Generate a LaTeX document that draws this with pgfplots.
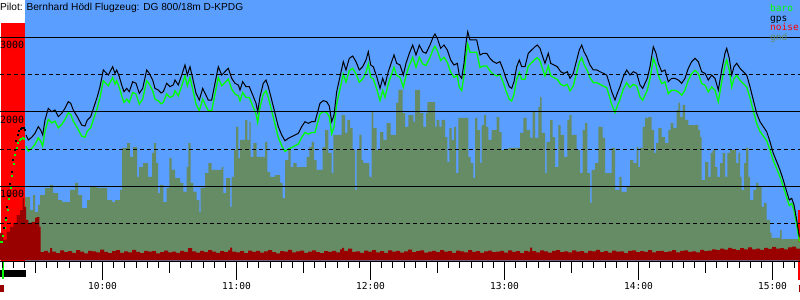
\documentclass[border=0pt]{standalone}
\usepackage{fontspec}
\setmainfont{Liberation Sans}
\newfontfamily\monofont{DejaVu Sans Mono}
\usepackage{pgfplots}
\pgfplotsset{compat=1.18}
\usepackage{pgfplotstable}
\definecolor{sky}{RGB}{90,158,255}
\definecolor{gndc}{RGB}{102,140,102}
\definecolor{noisec}{RGB}{153,0,0}
\definecolor{engred}{RGB}{255,0,0}
\definecolor{barog}{RGB}{0,255,0}

\pgfplotstableread{
x gps baro
26 1689 1539
28.3 1622 1472
31.7 1658 1508
35 1712 1562
38.3 1801 1651
40.7 1756 1606
42.7 1689 1539
45 1891 1741
48.3 2048 1898
51.7 2003 1853
55 2025 1875
58.3 1935 1785
61.7 1981 1831
65 2048 1898
68.3 2137 1987
70.7 2116 1966
73.3 2025 1875
77.3 1935 1785
81.7 1823 1673
85 1810 1660
87.3 1891 1741
90.7 1935 1785
94 2070 1920
97.3 2204 2054
100 2339 2194
103.3 2564 2419
106 2527 2382
108.3 2496 2351
110 2541 2396
112.7 2608 2463
115 2519 2374
116.7 2564 2419
119.3 2474 2329
121.7 2362 2217
124 2272 2127
126.7 2317 2172
129.3 2272 2127
132.7 2406 2261
136 2385 2240
139.3 2250 2105
142.7 2317 2172
146.7 2564 2419
149.3 2519 2374
152.7 2429 2284
155 2317 2172
158.3 2295 2150
161 2254 2109
163.3 2272 2127
166.7 2385 2240
170 2339 2194
173.3 2362 2217
175 2429 2284
178.3 2362 2217
181.7 2496 2351
185 2631 2486
187.3 2496 2351
190 2608 2463
192.7 2452 2307
196 2250 2105
199.3 2160 2015
202.7 2317 2172
205 2250 2105
208.3 2160 2015
211.7 2160 2015
215 2385 2240
218.3 2608 2463
221.7 2496 2351
225 2541 2396
228.3 2587 2442
231.7 2452 2307
235 2385 2240
238.3 2362 2217
240 2295 2150
242.7 2406 2261
246 2339 2194
249.3 2339 2194
252.7 2227 2082
256 2116 1971
257.7 2003 1858
260 2204 2059
263.3 2385 2240
266 2429 2284
268.3 2339 2194
271.7 2160 2015
275 1981 1836
278.3 1801 1656
281.7 1689 1544
285 1612 1467
288.3 1644 1499
291.7 1666 1521
295 1689 1544
298.3 1712 1567
301.7 1801 1656
305 1868 1723
308.3 1846 1701
311.7 1868 1723
315 1868 1723
317.3 1981 1836
320 2116 1971
323.3 2151 2006
326.7 2137 1992
329.3 2079 1934
331.7 1868 1703
334 1958 1793
336.7 2272 2107
340 2474 2309
343.3 2676 2511
346 2564 2399
349.3 2721 2556
352.7 2752 2587
356 2676 2511
359.3 2564 2399
362.7 2608 2443
366 2698 2533
368.3 2810 2645
370.7 2631 2466
373.3 2608 2443
376.7 2474 2309
380 2317 2152
382.7 2452 2287
385 2362 2197
388.3 2541 2376
391.7 2676 2511
394 2766 2601
396.7 2654 2489
400 2631 2466
403.3 2496 2331
406 2654 2489
409.3 2789 2624
412.7 2900 2735
416 2766 2601
419.3 2900 2735
422.7 2810 2645
426 2789 2624
430 2900 2735
433.3 3012 2847
435 3048 2883
437.3 2990 2825
440.7 2856 2691
444 2900 2735
447.3 2833 2668
450.7 2698 2533
454 2631 2466
457.3 2654 2489
459.3 2496 2331
461.7 2452 2287
464 2654 2489
466 2923 2758
467.7 3079 2914
470 2968 2803
473.3 2968 2803
476.7 2968 2803
480 2766 2596
483.3 2789 2619
486.7 2789 2619
490 2721 2551
493.3 2676 2506
496.7 2654 2484
500 2676 2506
503.3 2564 2394
506 2452 2282
509.3 2339 2169
511.7 2317 2147
514 2406 2236
516.7 2608 2438
519.3 2698 2528
521.7 2608 2438
525 2608 2438
528.3 2789 2619
531.7 2833 2663
535 2877 2707
537.3 2900 2730
540 2856 2686
542.7 2743 2573
545 2654 2484
548.3 2789 2619
550.7 2654 2484
554 2631 2461
557.3 2608 2438
560.7 2541 2371
564 2519 2349
567.3 2541 2371
570 2452 2282
573.3 2519 2349
576.7 2698 2528
579.3 2833 2663
581.7 2900 2730
584 2810 2640
586.7 2743 2573
590 2631 2461
593.3 2564 2394
596.7 2564 2394
600 2541 2371
603.3 2519 2349
606.7 2496 2326
609.3 2385 2215
611.7 2272 2102
615 2160 1990
617.3 2250 2080
620 2339 2169
623.3 2474 2304
626.7 2564 2394
630 2496 2326
633.3 2541 2371
636.7 2519 2349
640 2362 2202
642.7 2317 2157
645 2385 2225
647.3 2452 2292
650 2608 2448
653.3 2877 2717
656 2789 2629
658.3 2654 2494
661.7 2541 2381
665 2564 2404
668.3 2406 2246
671.7 2452 2292
675 2452 2292
678.3 2429 2269
681.7 2385 2225
685 2452 2292
688.3 2587 2427
691.7 2676 2516
695 2721 2561
698.3 2676 2516
701.7 2541 2381
705 2519 2359
708.3 2429 2269
711.7 2496 2336
715 2452 2292
718.3 2295 2135
721.7 2564 2404
725 2789 2629
726.7 2856 2696
729.3 2721 2561
731.7 2496 2336
734 2608 2448
736.7 2654 2494
740 2587 2427
743.3 2541 2381
746.7 2496 2336
750 2339 2189
753.3 2160 2015
756.7 1981 1841
760 1868 1738
763.3 1801 1676
766.7 1733 1613
770 1599 1489
773.3 1443 1343
776.7 1330 1235
780 1218 1128
783.3 1083 998
786.7 926 846
789.3 814 739
791.7 837 767
794 747 679
796.7 545 480
799.3 320 255
}\flight

\pgfplotstableread{
x gps
4 437
5.5 572
7 720
8.5 868
10 1029
11.5 1191
13 1352
14.5 1487
16 1608
17.5 1689
19 1743
20.5 1770
22 1790
23.5 1783
25 1756
}\climbgps

\pgfplotstableread{
x baro
3 329
4.5 437
6 545
7.5 680
9 827
10.5 976
12 1137
13.5 1299
15 1420
16.5 1514
18 1581
19.5 1622
21 1642
22.5 1649
24 1635
}\climbbaro

\pgfplotstableread{
x alt
25 854
30 679
33 881
35 652
38 747
40 881
45 976
50 1016
53 908
58 814
62 787
70 949
75 1043
78 881
82 706
87 814
90 989
97 976
107 814
112 787
115 814
120 949
122 1514
127 1581
130 1393
133 1527
137 1124
139 1258
143 1312
148 1124
152 1447
154 1581
156 1312
158 908
160 1016
163.3 787
166.7 976
169.3 1379
171.7 1218
175 1110
180 1043
183.3 922
186.7 1258
188.3 1581
190.7 1043
193.3 922
196.7 814
199.3 652
200.7 976
205 1177
208.3 1312
211.7 1218
221.7 1258
223.3 908
226 1110
230 720
231.7 1124
234 1487
236 1797
238.3 1379
240 1622
245 1891
247.3 1622
249.3 1864
250.7 1393
253.3 1581
256.7 1393
265 1595
267.3 1191
270 1124
275 1150
280 1043
282.7 841
285 1352
288.3 1514
290.7 1258
293.3 1312
296.7 1258
306.7 1393
309.3 1527
311.7 1595
314 1352
316.7 1218
320 1218
322.7 1527
325 1756
328.3 1447
331.7 1177
333.3 1689
341.7 1958
345 1716
347.3 1891
350 1783
352.7 1487
355 949
356.7 1487
359.3 1689
361.7 1352
363.3 1312
369.3 1124
371.7 1998
373.3 1783
376.7 1487
380 1729
383.3 1622
386.7 1850
390.7 1689
396 2120
398.3 2295
402.7 1985
405 1797
408.3 1958
413.3 1864
415 2295
420 1985
423.3 1797
426 1985
427.3 2133
435 1797
436.7 1891
439.3 1797
441.7 1891
445 1662
447.3 1325
449.3 1783
451.7 1622
454 1797
456 1177
458.3 1918
468.3 1393
470.7 1312
473.3 1110
475 1918
477.3 1756
480 1312
481.7 1823
484 1958
486 1797
488.3 1622
491.7 1756
496.7 1931
499.3 1729
501.7 1487
508.3 1514
520 1716
523.3 1918
526.7 1756
530 1649
532.7 1998
535 1649
538.3 2066
540 2200
541.7 1716
545 1177
546.7 1595
550 1891
552.7 1662
555 1258
558.3 1823
560.7 1689
564 1393
567.3 1891
569.3 1958
571.7 1689
576.7 1487
580 1177
582.7 1756
585 1850
587.3 1177
590 774
591.7 1218
595 1312
598.3 1797
602.7 1649
605 1177
611.7 1514
615 949
619.3 1124
621.7 922
626.7 989
630 1352
633.3 1312
636.7 1527
638.3 1258
640 1514
642.7 1797
645 1918
648.3 1931
651.7 1756
654 1447
656 1581
658.3 1783
661.7 1662
665 1581
668.3 1756
670.7 1850
673.3 1783
676.7 2025
678.3 2120
680 1931
682.7 2093
685 1891
688.3 1823
698.3 1756
700 1662
701.7 1083
705 1325
708.3 1124
710.7 1447
712.7 1487
715 1258
717.3 1124
720 1312
722.7 1447
725 1124
727.3 1447
730 1487
736 1312
738.3 1447
740 1124
741.7 949
744 1312
746 1514
748.3 1124
750 814
753.3 949
756 1043
758.3 989
761.7 720
764 774
766.7 545
770 370
771.7 303
780 410
781.7 289
798.3 249
800 249
}\gnd

\pgfplotstableread{
x alt
0 370
3.3 276
6.7 387
10 451
13.3 505
16.7 612
20 679
22.7 841
24 720
26 545
28.3 505
31.7 518
35 572
36.7 585
39.3 451
40.7 114
44 128
48 105
50 168
52 120
56 98
60 135
64 112
68 126
72 101
76 140
80 118
84 97
88 131
92 122
96 108
100 145
104 116
108 99
112 127
116 138
120 104
124 121
128 110
132 142
136 115
140 100
144 130
148 118
152 125
156 96
160 113
164 134
168 108
172 120
176 101
180 129
184 117
188 165
192 122
196 105
200 131
204 112
208 140
212 119
216 102
220 127
224 114
228 136
230 172
232 120
236 108
240 125
244 99
248 133
252 116
256 128
260 106
264 122
268 139
272 111
276 97
280 126
284 118
288 143
292 109
296 121
300 132
304 104
308 119
312 137
316 113
320 100
324 126
328 117
332 131
336 108
340 150
342 170
344 128
348 161
352 115
356 124
360 104
364 132
368 119
372 141
376 110
380 125
384 101
388 136
392 118
396 129
400 107
404 122
408 145
412 113
416 127
420 135
424 106
428 120
432 131
436 112
440 140
444 118
448 126
452 104
456 133
460 121
464 109
468 138
472 115
476 127
480 102
484 124
488 134
492 111
496 120
500 129
504 107
508 136
512 117
516 125
520 100
524 131
528 119
530 172
532 126
536 110
540 135
544 122
548 105
552 128
556 140
560 113
564 124
568 108
572 137
576 119
580 126
584 102
588 130
592 121
596 142
600 114
604 127
608 106
612 133
616 118
620 124
624 99
628 129
632 137
636 111
640 126
644 117
648 138
652 108
656 125
660 131
664 114
668 122
672 140
676 110
680 128
684 135
688 117
692 124
696 108
700 142
704 126
708 133
712 150
716 138
720 160
724 145
728 171
732 152
736 140
740 165
744 148
748 176
752 150
756 161
760 143
764 170
768 155
772 182
776 158
780 166
784 148
788 175
792 185
796 160
800 160
}\noise

\begin{document}
\begin{tikzpicture}
\useasboundingbox (0,0) rectangle (800bp,-300bp);
\begin{axis}[
  at={(0,0)}, anchor=north west,
  scale only axis, width=800bp, height=261bp,
  xmin=0, xmax=800, ymin=-7, ymax=3506,
  clip=false, axis on top,
  axis x line*=bottom, axis y line*=left,
  y axis line style={draw=none},
  x axis line style={black, line width=1bp},
  xtick={102.5,236.5,370.5,504.5,638.5,772.5},
  xticklabels={10:00,11:00,12:00,13:00,14:00,15:00},
  minor xtick={2,13.1667,...,800},
  extra x ticks={35.5,169.5,303.5,437.5,571.5,705.5},
  extra x tick labels={},
  extra x tick style={major tick length=12bp},
  tick align=outside,
  major tick length=19bp, minor tick length=7bp,
  every tick/.style={black, line width=1bp},
  xticklabel style={font=\monofont\fontsize{9.6}{10}\selectfont, anchor=north, inner sep=0pt, yshift=-2.5bp},
  ytick={1000,2000,3000},
  yticklabels={1000,2000,3000},
  minor ytick={500,1500,2500},
  ytick style={draw=none},
  yticklabel style={font=\monofont\fontsize{10}{10}\selectfont, text=black, anchor=base west, inner sep=0pt, xshift=19bp, yshift=-11.3bp},
  ymajorgrids, yminorgrids,
  major grid style={black, line width=0.9bp},
  minor grid style={black, line width=0.9bp, dash pattern=on 4bp off 3bp},
]
% sky (flight) and engine/ground phases
\addplot[fill=sky, draw=none, forget plot] coordinates {(25,-7) (25,3506) (800,3506) (800,-7)};
\addplot[fill=engred, draw=none, forget plot] coordinates {(1.5,-7) (1.5,3196) (25,3196) (25,-7)};
\addplot[fill=engred, draw=none, forget plot] coordinates {(797.5,-7) (797.5,680) (800,680) (800,-7)};
% series
\addplot[const plot, fill=gndc, draw=none, forget plot] table[x=x, y=alt] {\gnd} \closedcycle;
\addplot[const plot, fill=noisec, draw=none, forget plot] table[x=x, y=alt] {\noise} \closedcycle;
\addplot[barog, line width=1.3bp, forget plot] coordinates {(0,249) (3,249)};
\addplot[barog, line width=1.3bp, forget plot] table[x=x, y=baro] {\flight};
\addplot[black, line width=1bp, forget plot] table[x=x, y=gps] {\flight};
\addplot[only marks, mark=square*, mark size=0.6bp, barog, forget plot] table[x=x, y=baro] {\climbbaro};
\addplot[only marks, mark=square*, mark size=0.6bp, black, forget plot] table[x=x, y=gps] {\climbgps};
% markers below the time axis
\addplot[fill=black, draw=none, forget plot] coordinates {(0,-128) (25.5,-128) (25.5,-222) (0,-222)};
\addplot[fill=barog, draw=none, forget plot] coordinates {(2,-20) (4.5,-20) (4.5,-249) (2,-249)};
\addplot[fill=noisec, draw=none, forget plot] coordinates {(0,-330) (4,-330) (4,-424) (0,-424)};
\addplot[fill=engred, draw=none, forget plot] coordinates {(797.7,-20) (800,-20) (800,-262) (797.7,-262)};
\addplot[fill=noisec, draw=none, forget plot] coordinates {(799,-330) (800,-330) (800,-424) (799,-424)};
\end{axis}
\node[anchor=base west, inner sep=0pt, font=\fontsize{10.2}{12}\selectfont] at (0bp,-10bp) {Pilot: Bernhard Hödl Flugzeug: DG 800/18m D-KPDG};
\begin{scope}[every node/.style={anchor=base west, inner sep=0pt, font=\monofont\fontsize{9.6}{10}\selectfont}]
\node[text=barog] at (770bp,-11.5bp) {baro};
\node[text=black] at (770bp,-21bp) {gps};
\node[text=engred] at (770bp,-30.5bp) {noise};
\node[text=gndc] at (770bp,-40bp) {gnd};
\end{scope}
\end{tikzpicture}
\end{document}
